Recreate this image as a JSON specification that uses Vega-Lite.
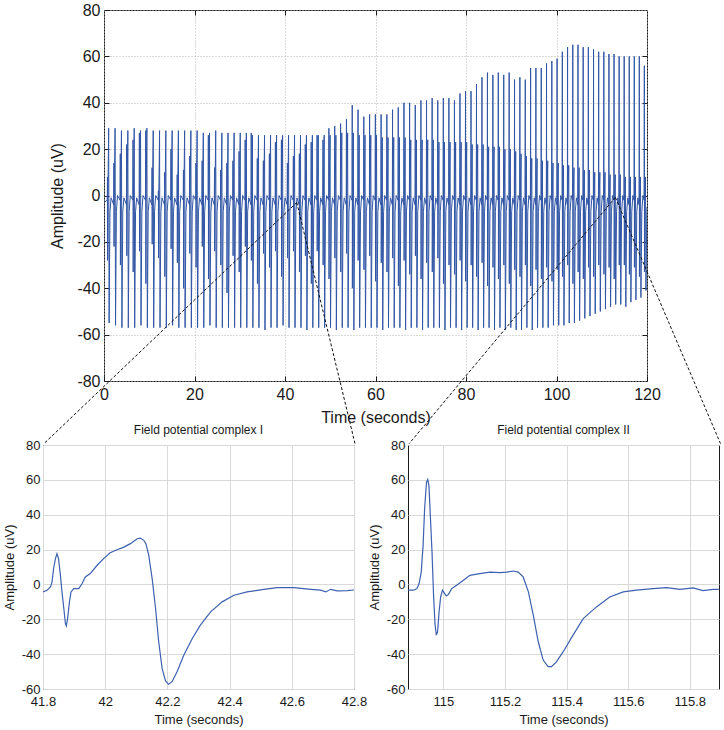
{
"$schema": "https://vega.github.io/schema/vega-lite/v6.json",
"background": "white",
"padding": {"left": 2, "top": 1, "right": 0, "bottom": 0},
"config": {
  "font": "Liberation Sans",
  "view": {"stroke": "#1a1a1a", "strokeWidth": 1},
  "axis": {"labelFont": "Liberation Sans", "titleFont": "Liberation Sans", "labelColor": "#1a1a1a", "titleColor": "#1a1a1a", "titleFontWeight": "normal", "labelFlush": false, "labelOverlap": false, "domain": false},
  "title": {"font": "Liberation Sans", "fontWeight": "normal", "fontSize": 12, "color": "#1a1a1a"}
},
"datasets": {
"signal": [
{"t":0,"v":-3},
{"t":0.72,"v":-2},{"t":0.77,"v":8},{"t":0.80,"v":-28},{"t":0.84,"v":-3},{"t":1.03,"v":29},{"t":1.13,"v":-55},{"t":1.32,"v":-7},{"t":1.57,"v":-1},
{"t":2.14,"v":-4},{"t":2.19,"v":14},{"t":2.22,"v":-22},{"t":2.26,"v":-3},{"t":2.45,"v":29},{"t":2.55,"v":-56},{"t":2.74,"v":-7},{"t":2.99,"v":0},
{"t":3.55,"v":-2},{"t":3.60,"v":18},{"t":3.63,"v":-30},{"t":3.67,"v":-3},{"t":3.86,"v":28},{"t":3.96,"v":-57},{"t":4.15,"v":-7},{"t":4.40,"v":-1},
{"t":4.96,"v":-4},{"t":5.01,"v":22},{"t":5.04,"v":-26},{"t":5.08,"v":-3},{"t":5.27,"v":28},{"t":5.37,"v":-57},{"t":5.56,"v":-7},{"t":5.81,"v":0},
{"t":6.37,"v":-2},{"t":6.42,"v":24},{"t":6.45,"v":-33},{"t":6.49,"v":-3},{"t":6.68,"v":29},{"t":6.78,"v":-57},{"t":6.97,"v":-7},{"t":7.22,"v":-1},
{"t":7.77,"v":-4},{"t":7.82,"v":27},{"t":7.85,"v":-24},{"t":7.89,"v":-3},{"t":8.08,"v":28},{"t":8.18,"v":-56},{"t":8.37,"v":-7},{"t":8.62,"v":0},
{"t":9.17,"v":-2},{"t":9.22,"v":28},{"t":9.25,"v":-38},{"t":9.29,"v":-3},{"t":9.48,"v":29},{"t":9.58,"v":-57},{"t":9.77,"v":-7},{"t":10.02,"v":-1},
{"t":10.57,"v":-4},{"t":10.62,"v":12},{"t":10.65,"v":-21},{"t":10.69,"v":-3},{"t":10.88,"v":28},{"t":10.98,"v":-57},{"t":11.17,"v":-7},{"t":11.42,"v":0},
{"t":11.97,"v":-2},{"t":12.02,"v":2},{"t":12.05,"v":-27},{"t":12.09,"v":-3},{"t":12.28,"v":28},{"t":12.38,"v":-57},{"t":12.57,"v":-7},{"t":12.82,"v":-1},
{"t":13.36,"v":-4},{"t":13.41,"v":10},{"t":13.44,"v":-35},{"t":13.48,"v":-3},{"t":13.67,"v":28},{"t":13.77,"v":-57},{"t":13.96,"v":-7},{"t":14.21,"v":0},
{"t":14.75,"v":-2},{"t":14.80,"v":20},{"t":14.83,"v":-23},{"t":14.87,"v":-3},{"t":15.06,"v":28},{"t":15.16,"v":-56},{"t":15.35,"v":-7},{"t":15.60,"v":-1},
{"t":16.13,"v":-4},{"t":16.18,"v":9},{"t":16.21,"v":-29},{"t":16.25,"v":-3},{"t":16.44,"v":28},{"t":16.54,"v":-57},{"t":16.73,"v":-7},{"t":16.98,"v":0},
{"t":17.51,"v":-2},{"t":17.56,"v":11},{"t":17.59,"v":-40},{"t":17.63,"v":-3},{"t":17.82,"v":28},{"t":17.92,"v":-57},{"t":18.11,"v":-7},{"t":18.36,"v":-1},
{"t":18.89,"v":-4},{"t":18.94,"v":17},{"t":18.97,"v":-25},{"t":19.01,"v":-3},{"t":19.20,"v":28},{"t":19.30,"v":-57},{"t":19.49,"v":-7},{"t":19.74,"v":0},
{"t":20.27,"v":-2},{"t":20.32,"v":14},{"t":20.35,"v":-31},{"t":20.39,"v":-3},{"t":20.58,"v":28},{"t":20.68,"v":-57},{"t":20.87,"v":-7},{"t":21.12,"v":-1},
{"t":21.64,"v":-4},{"t":21.69,"v":15},{"t":21.72,"v":-22},{"t":21.76,"v":-3},{"t":21.95,"v":27},{"t":22.05,"v":-57},{"t":22.24,"v":-7},{"t":22.49,"v":0},
{"t":23.01,"v":-2},{"t":23.06,"v":26},{"t":23.09,"v":-36},{"t":23.13,"v":-3},{"t":23.32,"v":27},{"t":23.42,"v":-56},{"t":23.61,"v":-7},{"t":23.86,"v":-1},
{"t":24.38,"v":-4},{"t":24.43,"v":12},{"t":24.46,"v":-24},{"t":24.50,"v":-3},{"t":24.69,"v":28},{"t":24.79,"v":-57},{"t":24.98,"v":-7},{"t":25.23,"v":0},
{"t":25.74,"v":-2},{"t":25.79,"v":11},{"t":25.82,"v":-30},{"t":25.86,"v":-3},{"t":26.05,"v":27},{"t":26.15,"v":-57},{"t":26.34,"v":-7},{"t":26.59,"v":-1},
{"t":27.10,"v":-4},{"t":27.15,"v":14},{"t":27.18,"v":-42},{"t":27.22,"v":-3},{"t":27.41,"v":27},{"t":27.51,"v":-57},{"t":27.70,"v":-7},{"t":27.95,"v":0},
{"t":28.45,"v":-2},{"t":28.50,"v":15},{"t":28.53,"v":-26},{"t":28.57,"v":-3},{"t":28.76,"v":27},{"t":28.86,"v":-57},{"t":29.05,"v":-7},{"t":29.30,"v":-1},
{"t":29.80,"v":-4},{"t":29.85,"v":19},{"t":29.88,"v":-33},{"t":29.92,"v":-3},{"t":30.11,"v":27},{"t":30.21,"v":-57},{"t":30.40,"v":-7},{"t":30.65,"v":0},
{"t":31.15,"v":-2},{"t":31.20,"v":24},{"t":31.23,"v":-22},{"t":31.27,"v":-3},{"t":31.46,"v":27},{"t":31.56,"v":-57},{"t":31.75,"v":-7},{"t":32.00,"v":-1},
{"t":32.49,"v":-4},{"t":32.54,"v":27},{"t":32.57,"v":-28},{"t":32.61,"v":-3},{"t":32.80,"v":26},{"t":32.90,"v":-57},{"t":33.09,"v":-7},{"t":33.34,"v":0},
{"t":33.83,"v":-2},{"t":33.88,"v":16},{"t":33.91,"v":-38},{"t":33.95,"v":-3},{"t":34.14,"v":26},{"t":34.24,"v":-57},{"t":34.43,"v":-7},{"t":34.68,"v":-1},
{"t":35.17,"v":-4},{"t":35.22,"v":15},{"t":35.25,"v":-25},{"t":35.29,"v":-3},{"t":35.48,"v":26},{"t":35.58,"v":-58},{"t":35.77,"v":-7},{"t":36.02,"v":0},
{"t":36.50,"v":-2},{"t":36.55,"v":18},{"t":36.58,"v":-31},{"t":36.62,"v":-3},{"t":36.81,"v":26},{"t":36.91,"v":-57},{"t":37.10,"v":-7},{"t":37.35,"v":-1},
{"t":37.83,"v":-4},{"t":37.88,"v":23},{"t":37.91,"v":-24},{"t":37.95,"v":-3},{"t":38.14,"v":26},{"t":38.24,"v":-57},{"t":38.43,"v":-7},{"t":38.68,"v":0},
{"t":39.16,"v":-2},{"t":39.21,"v":24},{"t":39.24,"v":-35},{"t":39.28,"v":-3},{"t":39.47,"v":26},{"t":39.57,"v":-56},{"t":39.76,"v":-7},{"t":40.01,"v":-1},
{"t":40.48,"v":-4},{"t":40.53,"v":14},{"t":40.56,"v":-27},{"t":40.60,"v":-3},{"t":40.79,"v":26},{"t":40.89,"v":-57},{"t":41.08,"v":-7},{"t":41.33,"v":0},
{"t":41.80,"v":-2},{"t":41.85,"v":17},{"t":41.88,"v":-24},{"t":41.92,"v":-3},{"t":42.11,"v":26},{"t":42.21,"v":-57},{"t":42.40,"v":-7},{"t":42.65,"v":-1},
{"t":43.12,"v":-4},{"t":43.17,"v":18},{"t":43.20,"v":-33},{"t":43.24,"v":-3},{"t":43.43,"v":26},{"t":43.53,"v":-57},{"t":43.72,"v":-7},{"t":43.97,"v":0},
{"t":44.43,"v":-2},{"t":44.48,"v":22},{"t":44.51,"v":-26},{"t":44.55,"v":-3},{"t":44.74,"v":26},{"t":44.84,"v":-58},{"t":45.03,"v":-7},{"t":45.28,"v":-1},
{"t":45.74,"v":-4},{"t":45.79,"v":23},{"t":45.82,"v":-38},{"t":45.86,"v":-3},{"t":46.05,"v":26},{"t":46.15,"v":-57},{"t":46.34,"v":-7},{"t":46.59,"v":0},
{"t":47.04,"v":-2},{"t":47.09,"v":26},{"t":47.12,"v":-24},{"t":47.16,"v":-3},{"t":47.35,"v":26},{"t":47.45,"v":-57},{"t":47.64,"v":-7},{"t":47.89,"v":-1},
{"t":48.35,"v":-4},{"t":48.40,"v":24},{"t":48.43,"v":-30},{"t":48.47,"v":-3},{"t":48.66,"v":26},{"t":48.76,"v":-57},{"t":48.95,"v":-7},{"t":49.20,"v":0},
{"t":49.65,"v":-2},{"t":49.70,"v":29},{"t":49.73,"v":-36},{"t":49.77,"v":-3},{"t":49.96,"v":26},{"t":50.06,"v":-57},{"t":50.25,"v":-7},{"t":50.50,"v":-1},
{"t":50.94,"v":-4},{"t":50.99,"v":30},{"t":51.02,"v":-27},{"t":51.06,"v":-3},{"t":51.25,"v":26},{"t":51.35,"v":-58},{"t":51.54,"v":-7},{"t":51.79,"v":0},
{"t":52.24,"v":-2},{"t":52.29,"v":31},{"t":52.32,"v":-33},{"t":52.36,"v":-3},{"t":52.55,"v":27},{"t":52.65,"v":-57},{"t":52.84,"v":-7},{"t":53.09,"v":-1},
{"t":53.53,"v":-4},{"t":53.58,"v":33},{"t":53.61,"v":-25},{"t":53.65,"v":-3},{"t":53.84,"v":27},{"t":53.94,"v":-57},{"t":54.13,"v":-7},{"t":54.38,"v":0},
{"t":54.81,"v":-2},{"t":54.86,"v":39},{"t":54.89,"v":-40},{"t":54.93,"v":-3},{"t":55.12,"v":27},{"t":55.22,"v":-58},{"t":55.41,"v":-7},{"t":55.66,"v":-1},
{"t":56.09,"v":-4},{"t":56.14,"v":37},{"t":56.17,"v":-28},{"t":56.21,"v":-3},{"t":56.40,"v":26},{"t":56.50,"v":-57},{"t":56.69,"v":-7},{"t":56.94,"v":0},
{"t":57.37,"v":-2},{"t":57.42,"v":34},{"t":57.45,"v":-32},{"t":57.49,"v":-3},{"t":57.68,"v":26},{"t":57.78,"v":-57},{"t":57.97,"v":-7},{"t":58.22,"v":-1},
{"t":58.65,"v":-4},{"t":58.70,"v":35},{"t":58.73,"v":-26},{"t":58.77,"v":-3},{"t":58.96,"v":26},{"t":59.06,"v":-57},{"t":59.25,"v":-7},{"t":59.50,"v":0},
{"t":59.92,"v":-2},{"t":59.97,"v":35},{"t":60.00,"v":-37},{"t":60.04,"v":-3},{"t":60.23,"v":26},{"t":60.33,"v":-57},{"t":60.52,"v":-7},{"t":60.77,"v":-1},
{"t":61.19,"v":-4},{"t":61.24,"v":35},{"t":61.27,"v":-29},{"t":61.31,"v":-3},{"t":61.50,"v":25},{"t":61.60,"v":-58},{"t":61.79,"v":-7},{"t":62.04,"v":0},
{"t":62.46,"v":-2},{"t":62.51,"v":35},{"t":62.54,"v":-33},{"t":62.58,"v":-3},{"t":62.77,"v":25},{"t":62.87,"v":-57},{"t":63.06,"v":-7},{"t":63.31,"v":-1},
{"t":63.72,"v":-4},{"t":63.77,"v":37},{"t":63.80,"v":-27},{"t":63.84,"v":-3},{"t":64.03,"v":25},{"t":64.13,"v":-57},{"t":64.32,"v":-7},{"t":64.57,"v":0},
{"t":64.98,"v":-2},{"t":65.03,"v":38},{"t":65.06,"v":-39},{"t":65.10,"v":-3},{"t":65.29,"v":25},{"t":65.39,"v":-57},{"t":65.58,"v":-7},{"t":65.83,"v":-1},
{"t":66.24,"v":-4},{"t":66.29,"v":40},{"t":66.32,"v":-28},{"t":66.36,"v":-3},{"t":66.55,"v":25},{"t":66.65,"v":-58},{"t":66.84,"v":-7},{"t":67.09,"v":0},
{"t":67.49,"v":-2},{"t":67.54,"v":40},{"t":67.57,"v":-34},{"t":67.61,"v":-3},{"t":67.80,"v":24},{"t":67.90,"v":-57},{"t":68.09,"v":-7},{"t":68.34,"v":-1},
{"t":68.74,"v":-4},{"t":68.79,"v":39},{"t":68.82,"v":-26},{"t":68.86,"v":-3},{"t":69.05,"v":24},{"t":69.15,"v":-57},{"t":69.34,"v":-7},{"t":69.59,"v":0},
{"t":69.99,"v":-2},{"t":70.04,"v":41},{"t":70.07,"v":-36},{"t":70.11,"v":-3},{"t":70.30,"v":24},{"t":70.40,"v":-58},{"t":70.59,"v":-7},{"t":70.84,"v":-1},
{"t":71.23,"v":-4},{"t":71.28,"v":41},{"t":71.31,"v":-29},{"t":71.35,"v":-3},{"t":71.54,"v":24},{"t":71.64,"v":-57},{"t":71.83,"v":-7},{"t":72.08,"v":0},
{"t":72.47,"v":-2},{"t":72.52,"v":42},{"t":72.55,"v":-33},{"t":72.59,"v":-3},{"t":72.78,"v":24},{"t":72.88,"v":-57},{"t":73.07,"v":-7},{"t":73.32,"v":-1},
{"t":73.71,"v":-4},{"t":73.76,"v":41},{"t":73.79,"v":-27},{"t":73.83,"v":-3},{"t":74.02,"v":23},{"t":74.12,"v":-57},{"t":74.31,"v":-7},{"t":74.56,"v":0},
{"t":74.94,"v":-2},{"t":74.99,"v":42},{"t":75.02,"v":-38},{"t":75.06,"v":-3},{"t":75.25,"v":23},{"t":75.35,"v":-58},{"t":75.54,"v":-7},{"t":75.79,"v":-1},
{"t":76.17,"v":-4},{"t":76.22,"v":42},{"t":76.25,"v":-30},{"t":76.29,"v":-3},{"t":76.48,"v":23},{"t":76.58,"v":-57},{"t":76.77,"v":-7},{"t":77.02,"v":0},
{"t":77.40,"v":-2},{"t":77.45,"v":41},{"t":77.48,"v":-34},{"t":77.52,"v":-3},{"t":77.71,"v":23},{"t":77.81,"v":-57},{"t":78.00,"v":-7},{"t":78.25,"v":-1},
{"t":78.62,"v":-4},{"t":78.67,"v":44},{"t":78.70,"v":-28},{"t":78.74,"v":-3},{"t":78.93,"v":23},{"t":79.03,"v":-58},{"t":79.22,"v":-7},{"t":79.47,"v":0},
{"t":79.84,"v":-2},{"t":79.89,"v":45},{"t":79.92,"v":-37},{"t":79.96,"v":-3},{"t":80.15,"v":23},{"t":80.25,"v":-57},{"t":80.44,"v":-7},{"t":80.69,"v":-1},
{"t":81.06,"v":-4},{"t":81.11,"v":45},{"t":81.14,"v":-30},{"t":81.18,"v":-3},{"t":81.37,"v":22},{"t":81.47,"v":-57},{"t":81.66,"v":-7},{"t":81.91,"v":0},
{"t":82.27,"v":-2},{"t":82.32,"v":48},{"t":82.35,"v":-35},{"t":82.39,"v":-3},{"t":82.58,"v":22},{"t":82.68,"v":-58},{"t":82.87,"v":-7},{"t":83.12,"v":-1},
{"t":83.48,"v":-4},{"t":83.53,"v":51},{"t":83.56,"v":-29},{"t":83.60,"v":-3},{"t":83.79,"v":22},{"t":83.89,"v":-57},{"t":84.08,"v":-7},{"t":84.33,"v":0},
{"t":84.69,"v":-2},{"t":84.74,"v":53},{"t":84.77,"v":-39},{"t":84.81,"v":-3},{"t":85.00,"v":21},{"t":85.10,"v":-57},{"t":85.29,"v":-7},{"t":85.54,"v":-1},
{"t":85.89,"v":-4},{"t":85.94,"v":52},{"t":85.97,"v":-31},{"t":86.01,"v":-3},{"t":86.20,"v":21},{"t":86.30,"v":-58},{"t":86.49,"v":-7},{"t":86.74,"v":0},
{"t":87.09,"v":-2},{"t":87.14,"v":53},{"t":87.17,"v":-36},{"t":87.21,"v":-3},{"t":87.40,"v":21},{"t":87.50,"v":-57},{"t":87.69,"v":-7},{"t":87.94,"v":-1},
{"t":88.29,"v":-4},{"t":88.34,"v":52},{"t":88.37,"v":-30},{"t":88.41,"v":-3},{"t":88.60,"v":20},{"t":88.70,"v":-58},{"t":88.89,"v":-7},{"t":89.14,"v":0},
{"t":89.49,"v":-2},{"t":89.54,"v":53},{"t":89.57,"v":-38},{"t":89.61,"v":-3},{"t":89.80,"v":20},{"t":89.90,"v":-57},{"t":90.09,"v":-7},{"t":90.34,"v":-1},
{"t":90.68,"v":-4},{"t":90.73,"v":50},{"t":90.76,"v":-32},{"t":90.80,"v":-3},{"t":90.99,"v":19},{"t":91.09,"v":-58},{"t":91.28,"v":-7},{"t":91.53,"v":0},
{"t":91.86,"v":-2},{"t":91.91,"v":51},{"t":91.94,"v":-35},{"t":91.98,"v":-3},{"t":92.17,"v":18},{"t":92.27,"v":-58},{"t":92.46,"v":-7},{"t":92.71,"v":-1},
{"t":93.05,"v":-4},{"t":93.10,"v":50},{"t":93.13,"v":-30},{"t":93.17,"v":-3},{"t":93.36,"v":17},{"t":93.46,"v":-57},{"t":93.65,"v":-7},{"t":93.90,"v":0},
{"t":94.23,"v":-2},{"t":94.28,"v":55},{"t":94.31,"v":-39},{"t":94.35,"v":-3},{"t":94.54,"v":16},{"t":94.64,"v":-58},{"t":94.83,"v":-7},{"t":95.08,"v":-1},
{"t":95.40,"v":-4},{"t":95.45,"v":55},{"t":95.48,"v":-32},{"t":95.52,"v":-3},{"t":95.71,"v":16},{"t":95.81,"v":-57},{"t":96.00,"v":-7},{"t":96.25,"v":0},
{"t":96.58,"v":-2},{"t":96.63,"v":55},{"t":96.66,"v":-36},{"t":96.70,"v":-3},{"t":96.89,"v":15},{"t":96.99,"v":-57},{"t":97.18,"v":-7},{"t":97.43,"v":-1},
{"t":97.75,"v":-4},{"t":97.80,"v":57},{"t":97.83,"v":-31},{"t":97.87,"v":-3},{"t":98.06,"v":15},{"t":98.16,"v":-57},{"t":98.35,"v":-7},{"t":98.60,"v":0},
{"t":98.92,"v":-2},{"t":98.97,"v":58},{"t":99.00,"v":-37},{"t":99.04,"v":-3},{"t":99.23,"v":14},{"t":99.33,"v":-56},{"t":99.52,"v":-7},{"t":99.77,"v":-1},
{"t":100.08,"v":-4},{"t":100.13,"v":59},{"t":100.16,"v":-32},{"t":100.20,"v":-3},{"t":100.39,"v":14},{"t":100.49,"v":-56},{"t":100.68,"v":-7},{"t":100.93,"v":0},
{"t":101.24,"v":-2},{"t":101.29,"v":62},{"t":101.32,"v":-35},{"t":101.36,"v":-3},{"t":101.55,"v":13},{"t":101.65,"v":-56},{"t":101.84,"v":-7},{"t":102.09,"v":-1},
{"t":102.40,"v":-4},{"t":102.45,"v":64},{"t":102.48,"v":-30},{"t":102.52,"v":-3},{"t":102.71,"v":13},{"t":102.81,"v":-55},{"t":103.00,"v":-7},{"t":103.25,"v":0},
{"t":103.55,"v":-2},{"t":103.60,"v":65},{"t":103.63,"v":-38},{"t":103.67,"v":-3},{"t":103.86,"v":12},{"t":103.96,"v":-55},{"t":104.15,"v":-7},{"t":104.40,"v":-1},
{"t":104.70,"v":-4},{"t":104.75,"v":65},{"t":104.78,"v":-33},{"t":104.82,"v":-3},{"t":105.01,"v":12},{"t":105.11,"v":-54},{"t":105.30,"v":-7},{"t":105.55,"v":0},
{"t":105.85,"v":-2},{"t":105.90,"v":64},{"t":105.93,"v":-36},{"t":105.97,"v":-3},{"t":106.16,"v":11},{"t":106.26,"v":-53},{"t":106.45,"v":-7},{"t":106.70,"v":-1},
{"t":106.99,"v":-4},{"t":107.04,"v":64},{"t":107.07,"v":-31},{"t":107.11,"v":-3},{"t":107.30,"v":11},{"t":107.40,"v":-52},{"t":107.59,"v":-7},{"t":107.84,"v":0},
{"t":108.14,"v":-2},{"t":108.19,"v":63},{"t":108.22,"v":-35},{"t":108.26,"v":-3},{"t":108.45,"v":10},{"t":108.55,"v":-51},{"t":108.74,"v":-7},{"t":108.99,"v":-1},
{"t":109.27,"v":-4},{"t":109.32,"v":62},{"t":109.35,"v":-30},{"t":109.39,"v":-3},{"t":109.58,"v":10},{"t":109.68,"v":-50},{"t":109.87,"v":-7},{"t":110.12,"v":0},
{"t":110.41,"v":-2},{"t":110.46,"v":62},{"t":110.49,"v":-34},{"t":110.53,"v":-3},{"t":110.72,"v":10},{"t":110.82,"v":-49},{"t":111.01,"v":-7},{"t":111.26,"v":-1},
{"t":111.54,"v":-4},{"t":111.59,"v":61},{"t":111.62,"v":-31},{"t":111.66,"v":-3},{"t":111.85,"v":9},{"t":111.95,"v":-48},{"t":112.14,"v":-7},{"t":112.39,"v":0},
{"t":112.67,"v":-2},{"t":112.72,"v":61},{"t":112.75,"v":-36},{"t":112.79,"v":-3},{"t":112.98,"v":9},{"t":113.08,"v":-47},{"t":113.27,"v":-7},{"t":113.52,"v":-1},
{"t":113.79,"v":-4},{"t":113.84,"v":60},{"t":113.87,"v":-30},{"t":113.91,"v":-3},{"t":114.10,"v":9},{"t":114.20,"v":-47},{"t":114.39,"v":-7},{"t":114.64,"v":0},
{"t":114.91,"v":-2},{"t":114.96,"v":60},{"t":114.99,"v":-30},{"t":115.03,"v":-3},{"t":115.22,"v":8},{"t":115.32,"v":-48},{"t":115.51,"v":-7},{"t":115.76,"v":-1},
{"t":116.03,"v":-4},{"t":116.08,"v":60},{"t":116.11,"v":-34},{"t":116.15,"v":-3},{"t":116.34,"v":8},{"t":116.44,"v":-46},{"t":116.63,"v":-7},{"t":116.88,"v":0},
{"t":117.14,"v":-2},{"t":117.19,"v":60},{"t":117.22,"v":-31},{"t":117.26,"v":-3},{"t":117.45,"v":8},{"t":117.55,"v":-45},{"t":117.74,"v":-7},{"t":117.99,"v":-1},
{"t":118.25,"v":-4},{"t":118.30,"v":60},{"t":118.33,"v":-35},{"t":118.37,"v":-3},{"t":118.56,"v":8},{"t":118.66,"v":-44},{"t":118.85,"v":-7},{"t":119.10,"v":0},
{"t":119.36,"v":-2},{"t":119.41,"v":56},{"t":119.44,"v":-33},{"t":119.48,"v":-3},{"t":119.67,"v":8},{"t":119.77,"v":-41},{"t":119.96,"v":-7},{"t":120,"v":-5}
],
"links": [
{"x1":42.6,"y1":-3,"x2":-13.26,"y2":-107},
{"x1":42.6,"y1":-3,"x2":55.47,"y2":-107},
{"x1":113.0,"y1":-0.8,"x2":67.45,"y2":-107},
{"x1":113.0,"y1":-0.8,"x2":136.24,"y2":-107}
],
"c1": [
{"t":41.8,"v":-4.3},{"t":41.813,"v":-3.3},{"t":41.824,"v":-1.4},{"t":41.829,"v":1.4},{"t":41.834,"v":9},{"t":41.84,"v":14.8},{"t":41.845,"v":17.6},{"t":41.85,"v":14.8},{"t":41.856,"v":5.2},{"t":41.861,"v":-4.3},{"t":41.867,"v":-13.8},{"t":41.872,"v":-22.4},{"t":41.875,"v":-23.8},{"t":41.879,"v":-19.6},{"t":41.885,"v":-10},{"t":41.89,"v":-4.3},{"t":41.899,"v":-2.4},{"t":41.915,"v":-2.4},{"t":41.926,"v":0.5},{"t":41.936,"v":4.3},{"t":41.952,"v":6.2},{"t":41.974,"v":11},{"t":41.995,"v":14.8},{"t":42.016,"v":18.2},{"t":42.038,"v":19.9},{"t":42.06,"v":21.4},{"t":42.081,"v":23.4},{"t":42.103,"v":26.2},{"t":42.113,"v":26.6},{"t":42.124,"v":25.3},{"t":42.131,"v":23.4},{"t":42.14,"v":16.7},{"t":42.151,"v":3.3},{"t":42.162,"v":-13.8},{"t":42.172,"v":-32.9},{"t":42.183,"v":-48.2},{"t":42.194,"v":-55.4},{"t":42.204,"v":-57.3},{"t":42.215,"v":-55.8},{"t":42.231,"v":-50.1},{"t":42.253,"v":-40.5},{"t":42.28,"v":-31},{"t":42.306,"v":-23.4},{"t":42.339,"v":-15.7},{"t":42.376,"v":-10},{"t":42.414,"v":-6.2},{"t":42.456,"v":-4.3},{"t":42.51,"v":-2.8},{"t":42.553,"v":-1.8},{"t":42.607,"v":-1.8},{"t":42.661,"v":-2.8},{"t":42.693,"v":-3.3},{"t":42.709,"v":-4.3},{"t":42.725,"v":-2.8},{"t":42.746,"v":-3.7},{"t":42.779,"v":-3.5},{"t":42.8,"v":-3.2}
],
"c2": [
{"t":114.884,"v":-3.3},{"t":114.903,"v":-3.3},{"t":114.914,"v":-2.4},{"t":114.921,"v":0.5},{"t":114.928,"v":7.1},{"t":114.934,"v":22.4},{"t":114.939,"v":43.4},{"t":114.945,"v":58.6},{"t":114.949,"v":60.2},{"t":114.953,"v":56.7},{"t":114.957,"v":41.5},{"t":114.963,"v":18.6},{"t":114.968,"v":-6.2},{"t":114.973,"v":-23.4},{"t":114.977,"v":-29.1},{"t":114.981,"v":-27.2},{"t":114.986,"v":-15.7},{"t":114.991,"v":-7.2},{"t":114.997,"v":-3.3},{"t":115.002,"v":-4.7},{"t":115.009,"v":-6.6},{"t":115.016,"v":-5.8},{"t":115.027,"v":-2.4},{"t":115.043,"v":-0.5},{"t":115.065,"v":2.4},{"t":115.086,"v":5.2},{"t":115.118,"v":6.2},{"t":115.151,"v":7.1},{"t":115.184,"v":6.8},{"t":115.205,"v":7.1},{"t":115.227,"v":7.7},{"t":115.243,"v":7.1},{"t":115.259,"v":4.3},{"t":115.276,"v":-4.3},{"t":115.292,"v":-17.7},{"t":115.308,"v":-32.9},{"t":115.324,"v":-43.4},{"t":115.34,"v":-47.2},{"t":115.351,"v":-47.2},{"t":115.367,"v":-44.4},{"t":115.389,"v":-38.6},{"t":115.421,"v":-29.1},{"t":115.454,"v":-19.6},{"t":115.497,"v":-12.9},{"t":115.54,"v":-7.2},{"t":115.584,"v":-4.3},{"t":115.627,"v":-3.3},{"t":115.681,"v":-2.4},{"t":115.724,"v":-1.8},{"t":115.768,"v":-2.8},{"t":115.811,"v":-2},{"t":115.843,"v":-3.5},{"t":115.876,"v":-2.8},{"t":115.894,"v":-2.8}
]
},
"spacing": -25,
"vconcat": [
{
  "spacing": -2,
  "hconcat": [
    {"width": 1, "height": 1, "data": {"values": []}, "mark": "point", "view": {"stroke": null}},
    {
      "width": 543, "height": 371,
      "resolve": {"axis": {"x": "independent", "y": "independent"}},
      "layer": [
        {
          "data": {"name": "signal"},
          "mark": {"type": "line", "color": "#3156a6", "strokeWidth": 1, "clip": true},
          "encoding": {
            "x": {"field": "t", "type": "quantitative", "scale": {"domain": [0, 120], "nice": false, "zero": false},
              "axis": {"orient": "bottom", "values": [0, 20, 40, 60, 80, 100, 120], "labelExpr": "'' + datum.value", "labelFontSize": 16, "labelPadding": 10, "ticks": true, "tickSize": -5, "tickColor": "#1a1a1a", "grid": true, "gridDash": [1, 2], "gridColor": "#b4b4b4", "title": "Time (seconds)", "titleFontSize": 16, "titlePadding": 7}},
            "y": {"field": "v", "type": "quantitative", "scale": {"domain": [-80, 80], "nice": false, "zero": false},
              "axis": {"orient": "left", "values": [-80, -60, -40, -20, 0, 20, 40, 60, 80], "labelExpr": "'' + datum.value", "labelFontSize": 16, "labelPadding": 9, "ticks": true, "tickSize": -5, "tickColor": "#1a1a1a", "grid": true, "gridDash": [1, 2], "gridColor": "#b4b4b4", "title": "Amplitude (uV)", "titleFontSize": 16, "titlePadding": 11}}
          }
        },
        {
          "data": {"name": "links"},
          "mark": {"type": "rule", "color": "#111111", "strokeWidth": 1, "strokeDash": [3, 2], "clip": false},
          "encoding": {
            "x": {"field": "x1", "type": "quantitative", "scale": {"domain": [0, 120], "nice": false, "zero": false},
              "axis": {"orient": "top", "values": [20, 40, 60, 80, 100], "labels": false, "ticks": true, "tickSize": -5, "tickColor": "#1a1a1a", "grid": false, "title": null}},
            "y": {"field": "y1", "type": "quantitative", "scale": {"domain": [-80, 80], "nice": false, "zero": false},
              "axis": {"orient": "right", "values": [-60, -40, -20, 0, 20, 40, 60], "labels": false, "ticks": true, "tickSize": -5, "tickColor": "#1a1a1a", "grid": false, "title": null}},
            "x2": {"field": "x2"},
            "y2": {"field": "y2"}
          }
        }
      ]
    }
  ]
},
{
  "spacing": -1,
  "hconcat": [
    {
      "width": 311, "height": 244,
      "title": {"text": "Field potential complex I", "offset": 2, "fontSize": 12},
      "data": {"name": "c1"},
      "mark": {"type": "line", "color": "#3d60b0", "strokeWidth": 1.2, "clip": true},
      "encoding": {
        "x": {"field": "t", "type": "quantitative", "scale": {"domain": [41.8, 42.8], "nice": false, "zero": false},
          "axis": {"values": [41.8, 42, 42.2, 42.4, 42.6, 42.8], "labelExpr": "'' + datum.value", "labelFontSize": 13, "labelPadding": 6, "ticks": false, "grid": true, "gridColor": "#d9d9d9", "title": "Time (seconds)", "titleFontSize": 13, "titlePadding": 5}},
        "y": {"field": "v", "type": "quantitative", "scale": {"domain": [-60, 80], "nice": false, "zero": false},
          "axis": {"values": [-60, -40, -20, 0, 20, 40, 60, 80], "labelExpr": "'' + datum.value", "labelFontSize": 13, "labelPadding": 3, "ticks": false, "grid": true, "gridColor": "#d9d9d9", "title": "Amplitude (uV)", "titleFontSize": 13, "titlePadding": 5}}
      }
    },
    {
      "width": 311, "height": 244,
      "title": {"text": "Field potential complex II", "offset": 2, "fontSize": 12},
      "data": {"name": "c2"},
      "mark": {"type": "line", "color": "#3d60b0", "strokeWidth": 1.2, "clip": true},
      "encoding": {
        "x": {"field": "t", "type": "quantitative", "scale": {"domain": [114.885, 115.895], "nice": false, "zero": false},
          "axis": {"values": [115, 115.2, 115.4, 115.6, 115.8], "labelExpr": "'' + datum.value", "labelFontSize": 13, "labelPadding": 6, "ticks": false, "grid": true, "gridColor": "#d9d9d9", "title": "Time (seconds)", "titleFontSize": 13, "titlePadding": 5}},
        "y": {"field": "v", "type": "quantitative", "scale": {"domain": [-60, 80], "nice": false, "zero": false},
          "axis": {"values": [-60, -40, -20, 0, 20, 40, 60, 80], "labelExpr": "'' + datum.value", "labelFontSize": 13, "labelPadding": 3, "ticks": false, "grid": true, "gridColor": "#d9d9d9", "title": "Amplitude (uV)", "titleFontSize": 13, "titlePadding": 5}}
      }
    }
  ]
}
]
}
